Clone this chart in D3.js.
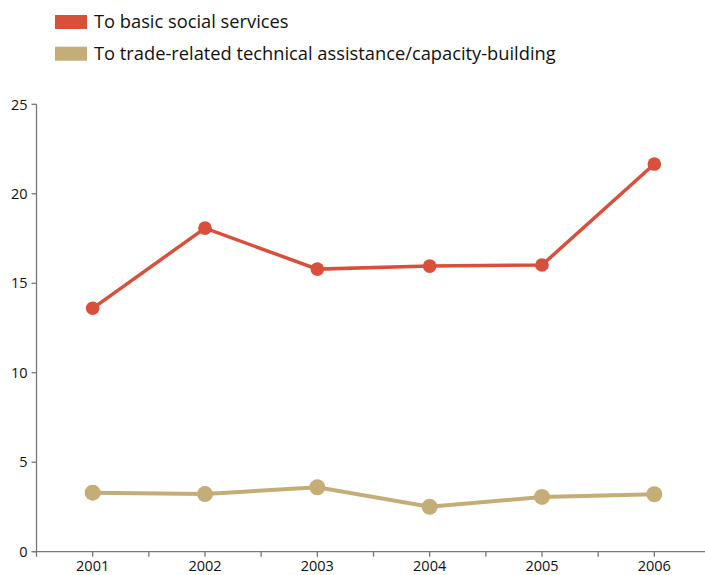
<!DOCTYPE html>
<html><head><meta charset="utf-8">
<script src="https://cdn.jsdelivr.net/npm/d3@7"></script>
<style>body{margin:0;background:#fff;} svg{display:block;font-family:"Open Sans",sans-serif;}</style>
</head><body><svg id="c" width="705" height="575"></svg>
<script>
const years = ["2001","2002","2003","2004","2005","2006"];
const socialServices = [13.6, 18.08, 15.79, 15.96, 16.02, 21.66];
const tradeAssistance = [3.30, 3.22, 3.60, 2.51, 3.06, 3.21];
const yTicks = [0, 5, 10, 15, 20, 25];
const seriesNames = ["To basic social services", "To trade-related technical assistance/capacity-building"];
const colors = ["#d9503a", "#c4ad77"];

const svg = d3.select("#c");
const x = d3.scaleBand().domain(years).range([36.5, 710.5]).padding(0);
const y = d3.scaleLinear().domain([0, 25]).range([551.7, 104.3]);
const axisColor = "#777";

// y axis
const gy = svg.append("g").attr("transform", "translate(36.5,0)");
gy.append("line").attr("x1",0).attr("x2",0).attr("y1",y(25)).attr("y2",y(0)+5).attr("stroke",axisColor).attr("stroke-width",1.3);
yTicks.forEach(t=>{
  gy.append("line").attr("x1",-5).attr("x2",0).attr("y1",y(t)).attr("y2",y(t)).attr("stroke",axisColor).attr("stroke-width",1.3);
  gy.append("text").attr("x",-9).attr("y",y(t)).attr("dy","0.36em").attr("text-anchor","end")
    .attr("font-size",14.5).attr("fill","#111").text(t);
});

// x axis
const gx = svg.append("g");
gx.append("line").attr("x1",33).attr("x2",705).attr("y1",y(0)).attr("y2",y(0)).attr("stroke",axisColor).attr("stroke-width",1.3);
years.forEach((yr,i)=>{
  const c = x(yr)+x.bandwidth()/2;
  gx.append("line").attr("x1",c).attr("x2",c).attr("y1",y(0)).attr("y2",y(0)+5).attr("stroke",axisColor).attr("stroke-width",1.3);
  if(i>0){
    const e = x(yr);
    gx.append("line").attr("x1",e).attr("x2",e).attr("y1",y(0)).attr("y2",y(0)+5).attr("stroke",axisColor).attr("stroke-width",1.3);
  }
  gx.append("text").attr("x",c).attr("y",y(0)+19.5).attr("text-anchor","middle").attr("font-size",14.5).attr("fill","#111").text(yr);
});

const cx = d => x(d)+x.bandwidth()/2;
function drawSeries(vals, color, lw, r){
  const data = years.map((yr,i)=>({yr, v: vals[i]}));
  svg.append("path").datum(data).attr("fill","none").attr("stroke",color).attr("stroke-width",lw)
    .attr("d", d3.line().x(d=>cx(d.yr)).y(d=>y(d.v)));
  svg.selectAll(null).data(data).enter().append("circle")
    .attr("cx",d=>cx(d.yr)).attr("cy",d=>y(d.v)).attr("r",r).attr("fill",color);
}
drawSeries(tradeAssistance, colors[1], 4, 8);
drawSeries(socialServices, colors[0], 3.5, 6.8);

// legend
const leg = svg.append("g");
seriesNames.forEach((n,i)=>{
  const yy = 15 + i*31.7;
  leg.append("rect").attr("x",55).attr("y",yy).attr("width",32).attr("height",14).attr("fill",colors[i]);
  leg.append("text").attr("x",94).attr("y",yy+13).attr("font-size",18.3).attr("fill","#111").text(n);
});
</script></body></html>
